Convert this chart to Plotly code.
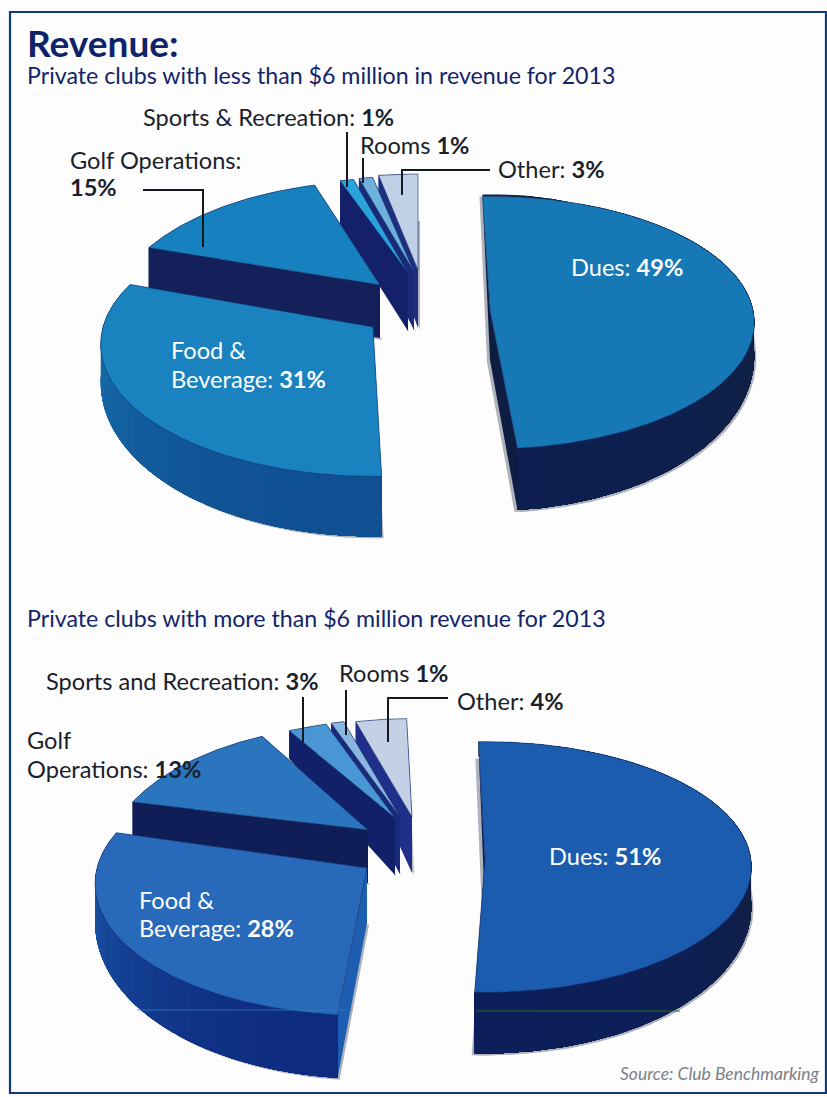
import numpy as np
import plotly.graph_objects as go

# Revenue shares by department, per club size
UNDER_6M_CATEGORIES = ["Dues", "Food & Beverage", "Golf Operations", "Sports & Recreation", "Rooms", "Other"]
UNDER_6M_SHARES = [49, 31, 15, 1, 1, 3]
OVER_6M_CATEGORIES = ["Dues", "Food & Beverage", "Golf Operations", "Sports and Recreation", "Rooms", "Other"]
OVER_6M_SHARES = [51, 28, 13, 3, 1, 4]

FONT = "Lato"
NAVY = "#12246a"
INK = "#1a1f2b"
SHADOW = "#aeb2ba"
LABEL = 23.6
SUB = 23.2


def pose(cx, cy, a, b, k, rot, dm, amp, da):
    return dict(cx=cx, cy=cy, a=a, b=b, k=k, rot=rot, dm=dm, amp=amp, da=da)


def look(face, wall_from, wall_to, radial):
    return dict(face=face, wall_from=wall_from, wall_to=wall_to, radial=radial)


# Exploded 3D placement of each wedge: apex, plane radii, perspective, wall depth
UNDER_POSES = {
    "Dues": pose(490, 310, 263, 125, 0.10, -1.8, 30, 32, 50),
    "Food & Beverage": pose(373, 327, 270, 130, 0.13, 2.0, 35, 25, 55),
    "Golf Operations": pose(380, 285, 262, 130, 0.25, 0.0, 50, 0, 53),
    "Sports & Recreation": pose(408, 273, 272, 120, 0.25, 0.0, 43, 0, 58),
    "Rooms": pose(414, 272, 275, 120, 0.25, 0.0, 43, 0, 58),
    "Other": pose(418, 270, 262, 120, 0.25, 0.0, 45, 0, 58),
}
OVER_POSES = {
    "Dues": pose(485, 860, 266, 125, 0.056, -1.5, 38, 23, 50),
    "Food & Beverage": pose(367, 868, 270, 130, 0.12, 1.9, 35, 28, 55),
    "Golf Operations": pose(368, 830, 255, 132, 0.25, -1.5, 50, 0, 53),
    "Sports and Recreation": pose(395, 818, 255, 123, 0.25, -1.5, 28, 0, 57),
    "Rooms": pose(400, 817, 255, 123, 0.25, -1.5, 28, 0, 57),
    "Other": pose(412, 817, 255, 123, 0.25, -1.5, 28, 0, 56),
}

UNDER_LOOKS = {
    "Dues": look("#1678b4", "#11213f", "#0d1f50", "#0e1d42"),
    "Food & Beverage": look("#1a82bf", "#1a74ae", "#0f4f92", "#125a98"),
    "Golf Operations": look("#1780bf", "#13205a", "#13205a", "#13205a"),
    "Sports & Recreation": look("#2aa3da", "#14206a", "#14206a", "#14206a"),
    "Rooms": look("#6eb1dc", "#1a2a78", "#1a2a78", "#1a2a78"),
    "Other": look("#c0d0e6", "#1f2f80", "#1f2f80", "#1f2f80"),
}
OVER_LOOKS = {
    "Dues": look("#1c5cae", "#121f3e", "#0c1f5a", "#0b1c50"),
    "Food & Beverage": look("#2969b9", "#1c5fae", "#0e2a80", "#1d5eb0"),
    "Golf Operations": look("#2b75bf", "#0f1e56", "#0f1e56", "#0f1e56"),
    "Sports and Recreation": look("#4a96d4", "#12206a", "#12206a", "#12206a"),
    "Rooms": look("#8ab5e0", "#1a2a7a", "#1a2a7a", "#1a2a7a"),
    "Other": look("#c3d0e6", "#20308a", "#20308a", "#20308a"),
}


def rim_point(theta_deg, p):
    t = np.radians(theta_deg)
    s = 1.0 / (1.0 + p["k"] * np.cos(t))
    return p["cx"] + p["a"] * np.sin(t) * s, p["cy"] - p["b"] * np.cos(t) * s


def rim_depth(theta_deg, p):
    return p["dm"] - p["amp"] * np.cos(np.radians(theta_deg))


def mix(c1, c2, f):
    rgb1 = [int(c1[i:i + 2], 16) for i in (1, 3, 5)]
    rgb2 = [int(c2[i:i + 2], 16) for i in (1, 3, 5)]
    return "#%02x%02x%02x" % tuple(int(round(x + (y - x) * f)) for x, y in zip(rgb1, rgb2))


def polygon(fig, xs, ys, color, name, line=None, width=0.0):
    fig.add_trace(go.Scatter(
        x=list(xs), y=list(ys), mode="lines", fill="toself", fillcolor=color,
        line=dict(color=line or color, width=width), name=name,
        hoverinfo="name", showlegend=False,
    ))


def draw_wall(fig, name, th, rx, ry, dr, c):
    """Outer wall shaded along the arc, each band painted over the rest so no seams appear."""
    if c["wall_from"] == c["wall_to"]:
        polygon(fig, np.r_[rx, rx[::-1]], np.r_[ry, (ry + dr)[::-1]], c["wall_from"], name)
        return
    front = (1 - np.cos(np.radians(th))) / 2
    # start with the side that faces the viewer least
    idx = np.arange(len(th)) if front[0] <= front[-1] else np.arange(len(th))[::-1]
    cuts = np.linspace(0, len(idx) - 1, 31).astype(int)[:-1]
    for cut in cuts:
        part = np.sort(idx[cut:])
        f = float(np.clip((front[idx[cut]] - 0.4) / 0.6, 0, 1))
        polygon(fig, np.r_[rx[part], rx[part][::-1]],
                np.r_[ry[part], (ry + dr)[part][::-1]],
                mix(c["wall_from"], c["wall_to"], f), name)


def draw_wedge(fig, name, share, start, p, c, shadows):
    t0 = start + p["rot"]
    t1 = t0 + share * 3.6
    th = np.linspace(t0, t1, max(60, int(share * 6)))
    rx, ry = rim_point(th, p)
    dr = rim_depth(th, p)
    ax, ay = p["cx"], p["cy"]

    # soft shadow cast by the base of the wedge
    for sx, sy in shadows:
        polygon(fig, np.r_[ax, rx, ax] + sx, np.r_[ay + p["da"], ry + dr, ay + p["da"]] + sy,
                SHADOW, name)

    # the two cut faces running from the rim to the apex
    for i in (0, -1):
        polygon(fig, [rx[i], ax, ax, rx[i], rx[i]],
                [ry[i], ay, ay + p["da"], ry[i] + dr[i], ry[i]], c["radial"], name)

    draw_wall(fig, name, th, rx, ry, dr, c)

    # top face
    polygon(fig, np.r_[ax, rx, ax], np.r_[ay, ry, ay], c["face"], name, line="#12306e", width=0.6)


def draw_pie(fig, categories, shares, poses, looks):
    starts = dict(zip(categories, np.cumsum([0] + shares[:-1]) * 3.6))
    values = dict(zip(categories, shares))
    # painted from the back of the pie to the front
    for name in [categories[i] for i in (5, 4, 3, 2, 1, 0)]:
        shadows = [(2, 2)]
        if name == "Dues":
            shadows = [(-3, 2), (2, 2)]
        draw_wedge(fig, name, values[name], starts[name], poses[name], looks[name], shadows)


fig = go.Figure()
draw_pie(fig, UNDER_6M_CATEGORIES, UNDER_6M_SHARES, UNDER_POSES, UNDER_LOOKS)
draw_pie(fig, OVER_6M_CATEGORIES, OVER_6M_SHARES, OVER_POSES, OVER_LOOKS)

under = dict(zip(UNDER_6M_CATEGORIES, UNDER_6M_SHARES))
over = dict(zip(OVER_6M_CATEGORIES, OVER_6M_SHARES))

notes = [
    ("<b>Revenue:</b>", 26, 42, 37, "#0f2468"),
    ("Private clubs with less than $6 million in revenue for 2013", 26, 75, SUB, NAVY),
    (f"Sports &amp; Recreation: <b>{under['Sports & Recreation']}%</b>", 142, 116.5, LABEL, INK),
    (f"Rooms <b>{under['Rooms']}%</b>", 359, 145, LABEL, INK),
    ("Golf Operations:", 69, 160, LABEL, INK),
    (f"<b>{under['Golf Operations']}%</b>", 69, 187, LABEL, INK),
    (f"Other: <b>{under['Other']}%</b>", 497, 169, LABEL, INK),
    (f"Dues: <b>{under['Dues']}%</b>", 570, 267, LABEL, "#ffffff"),
    ("Food &amp;", 170, 350, LABEL, "#ffffff"),
    (f"Beverage: <b>{under['Food & Beverage']}%</b>", 170, 379, LABEL, "#ffffff"),
    ("Private clubs with more than $6 million revenue for 2013", 26, 618, SUB, NAVY),
    (f"Sports and Recreation: <b>{over['Sports and Recreation']}%</b>", 45, 681, LABEL, INK),
    (f"Rooms <b>{over['Rooms']}%</b>", 338, 673, LABEL, INK),
    (f"Other: <b>{over['Other']}%</b>", 456, 701, LABEL, INK),
    ("Golf", 26, 740, LABEL, INK),
    (f"Operations: <b>{over['Golf Operations']}%</b>", 26, 769, LABEL, INK),
    (f"Dues: <b>{over['Dues']}%</b>", 548, 856, LABEL, "#ffffff"),
    ("Food &amp;", 138, 900, LABEL, "#ffffff"),
    (f"Beverage: <b>{over['Food & Beverage']}%</b>", 138, 928, LABEL, "#ffffff"),
]
annotations = [
    dict(text=t, x=x, y=y, xref="x", yref="y", xanchor="left", yanchor="middle",
         showarrow=False, font=dict(family=FONT, size=s, color=col), borderpad=0)
    for t, x, y, s, col in notes
]
annotations.append(dict(
    text="<i>Source: Club Benchmarking</i>", x=821, y=1073, xref="x", yref="y",
    xanchor="right", yanchor="middle", showarrow=False,
    font=dict(family=FONT, size=17.5, color="#7b7f87"), borderpad=0,
))

leaders = [
    [(143, 190), (203, 190), (203, 247)],
    [(347, 132), (347, 187)],
    [(363, 158), (363, 183)],
    [(490, 170), (402, 170), (402, 195)],
    [(303, 697), (303, 742)],
    [(346, 690), (346, 735)],
    [(448, 698), (388, 698), (388, 742)],
]
shapes = [dict(type="rect", x0=10, y0=12, x1=826, y1=1093, xref="x", yref="y",
               line=dict(color="#123a7a", width=2.2), fillcolor="rgba(0,0,0,0)")]
for pts in leaders:
    path = "M " + " L ".join(f"{x},{y}" for x, y in pts)
    shapes.append(dict(type="path", path=path, xref="x", yref="y",
                       line=dict(color="#14181f", width=2)))
# fine print-registration hairlines crossing the lower pie
shapes.append(dict(type="line", x0=477, x1=680, y0=1011, y1=1011, xref="x", yref="y",
                   line=dict(color="#2a6a2a", width=1)))
shapes.append(dict(type="line", x0=137, x1=352, y0=1010, y1=1010, xref="x", yref="y",
                   line=dict(color="#2f7fb8", width=0.8)))

fig.update_layout(
    width=827, height=1097, margin=dict(l=0, r=0, t=0, b=0),
    paper_bgcolor="#fdfdfe", plot_bgcolor="#fdfdfe", showlegend=False,
    xaxis=dict(range=[0, 827], visible=False, fixedrange=True),
    yaxis=dict(range=[1097, 0], visible=False, fixedrange=True),
    annotations=annotations, shapes=shapes,
)
fig.write_html("out.html", config=dict(displayModeBar=False))
